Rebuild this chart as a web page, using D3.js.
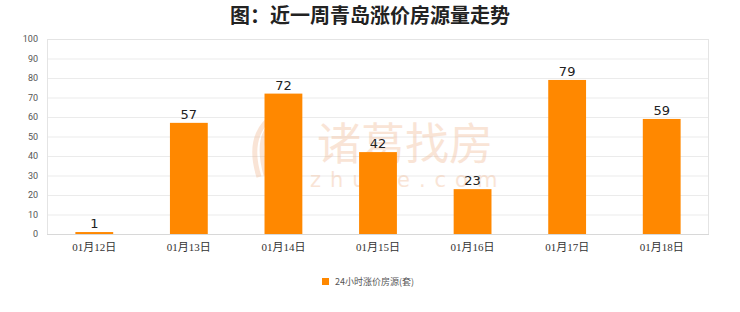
<!DOCTYPE html>
<html>
<head>
<meta charset="utf-8">
<script src="https://cdn.jsdelivr.net/npm/d3@7"></script>
<style>
  body { margin: 0; background: #fff; }
  svg { display: block; }
</style>
</head>
<body>
<svg id="chart" width="740" height="312"></svg>
<script>
// chart data
var categories = ['01月12日', '01月13日', '01月14日', '01月15日', '01月16日', '01月17日', '01月18日'];
var values = [1, 57, 72, 42, 23, 79, 59];
var yTicks = [0, 10, 20, 30, 40, 50, 60, 70, 80, 90, 100];
var seriesName = '24小时涨价房源(套)';
var title = '图：近一周青岛涨价房源量走势';

var svg = d3.select('#chart'),
    margin = {left: 47, right: 31, top: 39, bottom: 78},
    width = 740 - margin.left - margin.right,
    height = 312 - margin.top - margin.bottom,
    barColor = '#ff8800';

var x = d3.scaleBand().domain(categories).range([0, width]).paddingInner(0.6).paddingOuter(0.3);
var y = d3.scaleLinear().domain([0, 100]).range([height, 0]);

// title
svg.append('text')
    .attr('x', 370).attr('y', 23)
    .attr('text-anchor', 'middle')
    .style('font-family', '"Noto Sans CJK SC", sans-serif')
    .style('font-size', '20px')
    .style('font-weight', 'bold')
    .style('fill', '#222')
    .text(title);

var g = svg.append('g').attr('transform', 'translate(' + margin.left + ',' + margin.top + ')');

// grid lines
g.append('g').selectAll('line')
    .data(yTicks.slice(1))
    .enter().append('line')
    .attr('x1', 0).attr('x2', width)
    .attr('y1', function(d) { return y(d) + 0.5; })
    .attr('y2', function(d) { return y(d) + 0.5; })
    .style('stroke', '#ebebeb');

// frame
g.append('rect')
    .attr('x', 0.5).attr('y', 0.5)
    .attr('width', width - 1).attr('height', height)
    .style('fill', 'none').style('stroke', '#e4e4e4');

// watermark (sits behind the bars)
var wm = g.append('g').style('opacity', 0.35);
wm.append('text')
    .attr('x', 358).attr('y', 121)
    .attr('text-anchor', 'middle')
    .style('font-family', '"Noto Sans CJK SC", sans-serif')
    .style('font-size', '44px')
    .style('fill', '#f0b48c')
    .text('诸葛找房');
wm.append('text')
    .attr('x', 263).attr('y', 148)
    .style('font-family', 'DejaVu Sans, sans-serif')
    .style('font-size', '21px')
    .style('letter-spacing', '9px')
    .style('fill', '#f0b48c')
    .text('zhuge.com');
// feather-ish logo
[0, 1, 2, 3].forEach(function(i) {
    wm.append('path')
        .attr('d', 'M' + (212 + i * 7) + ',' + (138 - i * 2) + ' Q' + (200 + i * 8) + ',' + (100 - i * 4) + ' ' + (222 + i * 6) + ',' + (80 + i * 3))
        .style('fill', 'none').style('stroke', '#f0b48c').style('stroke-width', 5);
});

// y axis labels
g.append('g').selectAll('text')
    .data(yTicks)
    .enter().append('text')
    .attr('x', -9)
    .attr('y', function(d) { return y(d); })
    .attr('dy', '0.35em')
    .attr('text-anchor', 'end')
    .style('font-family', 'Roboto, sans-serif')
    .style('font-size', '9px')
    .style('fill', '#555')
    .text(function(d) { return d; });

// bars
g.selectAll('.bar')
    .data(values)
    .enter().append('rect')
    .attr('class', 'bar')
    .attr('x', function(d, i) { return x(categories[i]); })
    .attr('y', function(d) { return y(d); })
    .attr('width', x.bandwidth())
    .attr('height', function(d) { return height - y(d); })
    .style('fill', barColor);

// bottom axis line
g.append('line')
    .attr('x1', 0).attr('x2', width)
    .attr('y1', height + 0.5).attr('y2', height + 0.5)
    .style('stroke', '#d8d8d8');

// value labels
g.selectAll('.val')
    .data(values)
    .enter().append('text')
    .attr('x', function(d, i) { return x(categories[i]) + x.bandwidth() / 2; })
    .attr('y', function(d) { return y(d) - 4; })
    .attr('text-anchor', 'middle')
    .style('font-family', 'DejaVu Sans, sans-serif')
    .style('font-size', '13px')
    .style('fill', '#222')
    .text(function(d) { return d; });

// category labels
g.selectAll('.cat')
    .data(categories)
    .enter().append('text')
    .attr('x', function(d) { return x(d) + x.bandwidth() / 2; })
    .attr('y', height + 17)
    .attr('text-anchor', 'middle')
    .style('font-family', '"Liberation Serif", "Noto Sans CJK SC", serif')
    .style('font-size', '11px')
    .style('fill', '#333')
    .text(function(d) { return d; });

// legend
var lg = svg.append('g').attr('transform', 'translate(322,278)');
lg.append('rect')
    .attr('width', 7).attr('height', 7)
    .style('fill', barColor);
lg.append('text')
    .attr('x', 13).attr('y', 7)
    .style('font-family', '"Noto Sans CJK SC", sans-serif')
    .style('font-size', '9px')
    .style('fill', '#555')
    .text(seriesName);
</script>
</body>
</html>
